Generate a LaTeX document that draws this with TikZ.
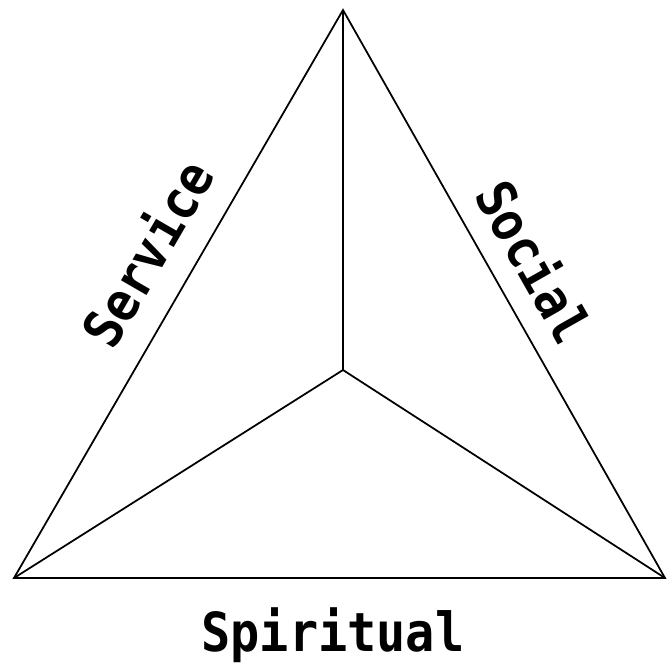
\documentclass[tikz,border=0pt]{standalone}
\usepackage{fontspec}
\newfontfamily\sidefont{DejaVu Sans Mono}
\begin{document}
\begin{tikzpicture}[x=0.03cm,y=-0.03cm,
  sidetext/.style={font=\sidefont\bfseries\fontsize{46}{50}\selectfont, inner sep=0pt, xscale=0.9},
  edge/.style={line width=1.5pt, line join=miter}]
\useasboundingbox (0,0) rectangle (668,667);
\coordinate (apex) at (343,10);
\coordinate (left) at (14,578);
\coordinate (right) at (665,578);
\coordinate (mid) at (343,370);
\draw[edge] (apex) -- (left) -- (right) -- cycle;
\draw[edge] (mid) -- (apex);
\draw[edge] (mid) -- (left);
\draw[edge] (mid) -- (right);
\path (left) -- (apex) node[sidetext, pos=0.53, sloped, above=22pt] (service) {Service};
\path (apex) -- (right) node[sidetext, pos=0.48, sloped, above=18pt] (social) {Social};
\path (left) -- (right) node[sidetext, pos=0.49, below=25pt] (spiritual) {Spiritual};
\end{tikzpicture}
\end{document}
